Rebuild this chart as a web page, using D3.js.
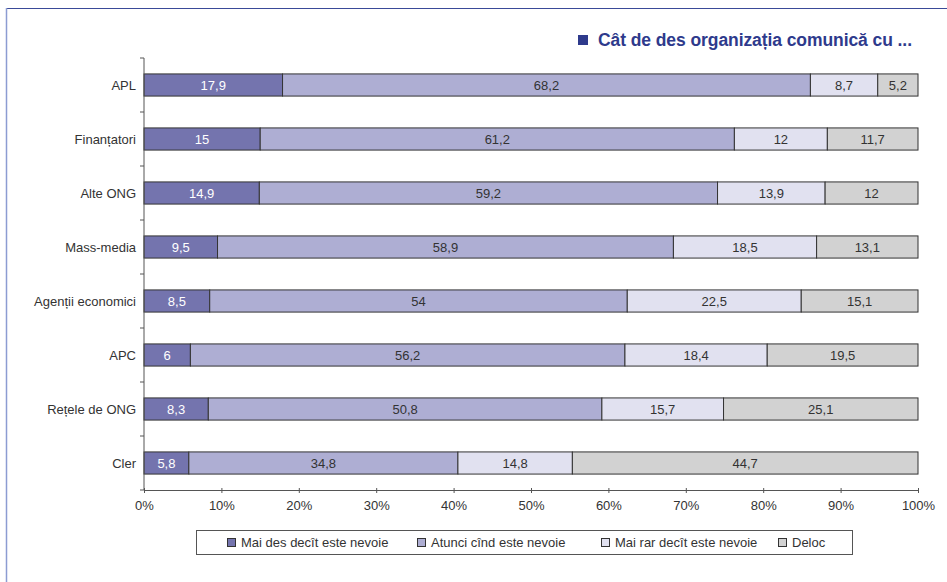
<!DOCTYPE html>
<html>
<head>
<meta charset="utf-8">
<script src="https://cdn.jsdelivr.net/npm/d3@7"></script>
<style>
body { margin: 0; background: #fff; }
svg { font-family: "Liberation Sans", Arial, sans-serif; }
</style>
</head>
<body>
<div id="chart"></div>
<script>
var categories = ["APL", "Finanțatori", "Alte ONG", "Mass-media", "Agenții economici", "APC", "Rețele de ONG", "Cler"];
var seriesNames = ["Mai des decît este nevoie", "Atunci cînd este nevoie", "Mai rar decît este nevoie", "Deloc"];
var maiDes = [17.9, 15, 14.9, 9.5, 8.5, 6, 8.3, 5.8];
var atunci = [68.2, 61.2, 59.2, 58.9, 54, 56.2, 50.8, 34.8];
var maiRar = [8.7, 12, 13.9, 18.5, 22.5, 18.4, 15.7, 14.8];
var deloc = [5.2, 11.7, 12, 13.1, 15.1, 19.5, 25.1, 44.7];
var tickLabels = ["0%", "10%", "20%", "30%", "40%", "50%", "60%", "70%", "80%", "90%", "100%"];
var colors = ["#7474ae", "#aeaed3", "#e1e1f0", "#d2d2d2"];

var width = 947, height = 582;
var margin = {left: 144, right: 29, top: 58, bottom: 92};

var svg = d3.select("#chart").append("svg")
    .attr("width", width)
    .attr("height", height);

// frame
svg.append("line").attr("x1", 6).attr("x2", width).attr("y1", 8.5).attr("y2", 8.5)
    .attr("stroke", "#3a4a98").attr("stroke-width", 1.2);
svg.append("line").attr("x1", 6.5).attr("x2", 6.5).attr("y1", 8).attr("y2", height)
    .attr("stroke", "#8c9cd2").attr("stroke-width", 1.5);

// title
svg.append("rect").attr("x", 578).attr("y", 35).attr("width", 10).attr("height", 10).attr("fill", "#2e3a8c");
svg.append("text")
    .attr("x", 598).attr("y", 46)
    .attr("font-weight", "bold")
    .attr("font-size", 17.5)
    .attr("fill", "#2e3a8c")
    .attr("textLength", 314)
    .text("Cât de des organizația comunică cu ...");

var rows = categories.map(function(c, i) {
    var vals = [maiDes[i], atunci[i], maiRar[i], deloc[i]];
    var total = d3.sum(vals);
    var row = {name: c, vals: vals};
    seriesNames.forEach(function(s, j) { row[s] = vals[j] / total; });
    return row;
});

var x = d3.scaleLinear().domain([0, 1]).range([margin.left, width - margin.right]);
var y = d3.scaleBand().domain(categories).range([margin.top, height - margin.bottom]).paddingInner(0.59).paddingOuter(0.295);
var yBand = d3.scaleBand().domain(categories).range([margin.top, height - margin.bottom]);

var stack = d3.stack().keys(seriesNames);
var layers = stack(rows);

var g = svg.append("g");
layers.forEach(function(layer, j) {
    g.selectAll(".s" + j).data(layer).enter().append("rect")
        .attr("x", function(d) { return x(d[0]); })
        .attr("y", function(d) { return y(d.data.name); })
        .attr("width", function(d) { return x(d[1]) - x(d[0]); })
        .attr("height", y.bandwidth())
        .attr("fill", colors[j])
        .attr("stroke", "#333")
        .attr("stroke-width", 1);
    g.selectAll(".t" + j).data(layer).enter().append("text")
        .attr("x", function(d) { return (x(d[0]) + x(d[1])) / 2; })
        .attr("y", function(d) { return y(d.data.name) + y.bandwidth() / 2 + 4.5; })
        .attr("text-anchor", "middle")
        .attr("font-size", 13)
        .attr("fill", j === 0 ? "#fff" : "#333")
        .text(function(d) { return String(d.data.vals[j]).replace(".", ","); });
});

// y axis
var yAxis = svg.append("g").attr("transform", "translate(" + margin.left + ",0)");
yAxis.append("line").attr("x1", 0).attr("x2", 0).attr("y1", margin.top).attr("y2", height - margin.bottom)
    .attr("stroke", "#555");
yAxis.selectAll(".yt").data(categories.concat(["end"])).enter().append("line")
    .attr("x1", -4).attr("x2", 0)
    .attr("y1", function(d, i) { return i < categories.length ? yBand(d) : height - margin.bottom; })
    .attr("y2", function(d, i) { return i < categories.length ? yBand(d) : height - margin.bottom; })
    .attr("stroke", "#555");
yAxis.selectAll(".yl").data(categories).enter().append("text")
    .attr("x", -8)
    .attr("y", function(d) { return y(d) + y.bandwidth() / 2 + 4.5; })
    .attr("text-anchor", "end")
    .attr("font-size", 13)
    .attr("fill", "#333")
    .text(function(d) { return d; });

// x axis
var xAxis = d3.axisBottom(x).tickValues(d3.range(0, 1.01, 0.1)).tickSize(5).tickSizeOuter(0)
    .tickFormat(function(d, i) { return tickLabels[i]; });
var xg = svg.append("g").attr("transform", "translate(0," + (height - margin.bottom) + ")").call(xAxis);
xg.select(".domain").attr("stroke", "#555");
xg.selectAll(".tick line").attr("stroke", "#555").attr("y1", -2).attr("y2", 3);
xg.selectAll("text").attr("font-size", 13).attr("fill", "#333").attr("dy", "0.9em")
    .attr("font-family", "'Liberation Sans', Arial, sans-serif");

// legend
var lg = svg.append("g");
lg.append("rect").attr("x", 196.5).attr("y", 530.5).attr("width", 656).attr("height", 24)
    .attr("fill", "#fff").attr("stroke", "#555");
var legendX = [227, 417, 601, 778];
seriesNames.forEach(function(s, j) {
    lg.append("rect").attr("x", legendX[j] + 0.5).attr("y", 538.5).attr("width", 8).attr("height", 8)
        .attr("fill", colors[j]).attr("stroke", "#333");
    lg.append("text").attr("x", legendX[j] + 14).attr("y", 547)
        .attr("font-size", 13).attr("fill", "#333").text(s);
});
</script>
</body>
</html>
